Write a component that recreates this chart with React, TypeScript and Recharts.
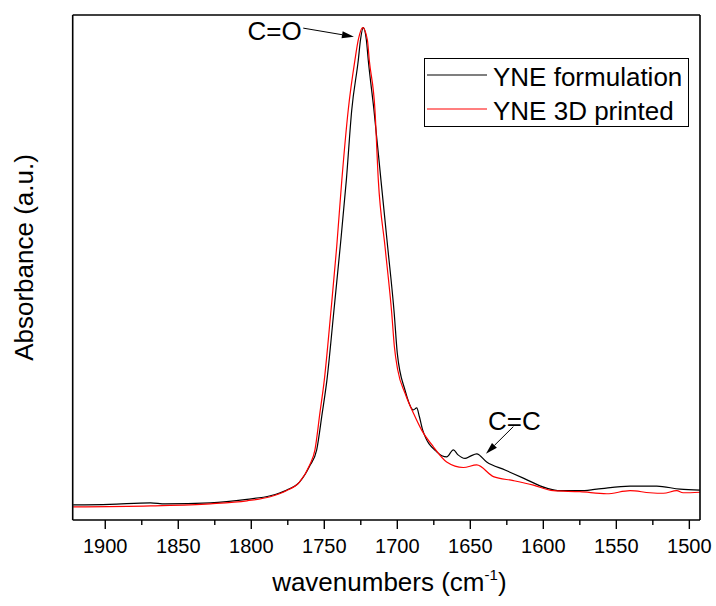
import React from "react"
import { LineChart, Line, XAxis, YAxis, Legend, ReferenceLine } from "recharts"

const FONT = "'Liberation Sans', Arial, Helvetica, sans-serif"

// wavenumbers (cm-1) and absorbance
const formulationWn = [
  1922, 1897, 1869, 1859, 1828, 1803, 1787, 1776, 1767, 1760, 1755.2, 1751.4, 1748.2, 1743.6, 1739.1, 1734.9,
  1731.2, 1726.7, 1725.2, 1723.3, 1721.2, 1719.9, 1716, 1711.2, 1706.6, 1702.1, 1700, 1694.7, 1689, 1686.7,
  1684.9, 1682.6, 1673, 1666.2, 1661.6, 1658.4, 1653.6, 1650.2, 1645.6, 1638.8, 1626.2, 1613.7, 1597.7, 1588.6,
  1574.9, 1563.4, 1540.6, 1522.3, 1506.4, 1492.7,
]
const formulationAbs = [
  0.03, 0.031, 0.034, 0.032, 0.034, 0.041, 0.048, 0.059, 0.075, 0.107, 0.139, 0.212, 0.277, 0.409, 0.541, 0.673,
  0.812, 0.911, 0.951, 0.975, 0.951, 0.911, 0.812, 0.673, 0.541, 0.409, 0.33, 0.257, 0.218, 0.222,
  0.205, 0.178, 0.135, 0.125, 0.139, 0.129, 0.122, 0.126, 0.131, 0.115, 0.099, 0.083, 0.063, 0.058,
  0.058, 0.061, 0.067, 0.067, 0.061, 0.059,
]

const printedWn = [
  1922, 1869, 1828, 1803, 1787, 1776, 1767, 1760, 1756.4, 1753, 1750, 1745.6, 1741.5, 1738, 1733.6, 1729,
  1726.7, 1723.7, 1720.5, 1719.2, 1715.3, 1713, 1708.4, 1703.8, 1702, 1699.7, 1694.7, 1687.9, 1683.3, 1675.3,
  1666.2, 1654.8, 1645.6, 1634.2, 1620.5, 1606.8, 1593.2, 1574.9, 1556.6, 1540.6, 1527, 1517.8, 1508.6, 1504.3,
  1492.7,
]
const printedAbs = [
  0.026, 0.028, 0.032, 0.038, 0.046, 0.058, 0.075, 0.109, 0.139, 0.212, 0.277, 0.409, 0.541, 0.673, 0.812, 0.911,
  0.951, 0.975, 0.951, 0.911, 0.812, 0.673, 0.541, 0.409, 0.343, 0.297, 0.251, 0.205, 0.178, 0.145,
  0.115, 0.104, 0.109, 0.086, 0.078, 0.069, 0.058, 0.056, 0.052, 0.058, 0.054, 0.053, 0.058, 0.054,
  0.055,
]

const seriesNames = ["YNE formulation", "YNE 3D printed"]

const xTicks = [1900, 1875, 1850, 1825, 1800, 1775, 1750, 1725, 1700, 1675, 1650, 1625, 1600, 1575, 1550, 1525, 1500]

const formulationData = formulationWn.map((wn, i) => ({ wn, abs: formulationAbs[i] }))
const printedData = printedWn.map((wn, i) => ({ wn, abs: printedAbs[i] }))

const axisStyle = { stroke: "#000", strokeWidth: 1.6 }

function XTick(props: any) {
  const { x, y, payload } = props
  const major = payload.value % 50 === 0
  return (
    <g>
      <line x1={x} x2={x} y1={y} y2={y + (major ? 9 : 5)} stroke="#000" strokeWidth={1.4} />
      {major && (
        <text x={x} y={y + 33} textAnchor="middle" fontSize={20} fill="#000" fontFamily={FONT}>
          {payload.value}
        </text>
      )}
    </g>
  )
}

function XTitle(props: any) {
  const vb = props.viewBox || { x: 72.7, y: 520, width: 627.3 }
  return (
    <text x={vb.x + vb.width / 2 + 3} y={vb.y + 71} textAnchor="middle" fontSize={26} fill="#000" fontFamily={FONT}>
      wavenumbers (cm
      <tspan fontSize={15} dy={-11}>-1</tspan>
      <tspan dy={11}>)</tspan>
    </text>
  )
}

function YTitle(props: any) {
  const vb = props.viewBox || { y: 15, height: 505 }
  const cy = vb.y + vb.height / 2 - 10
  return (
    <text x={33} y={cy} transform={`rotate(-90, 33, ${cy})`} textAnchor="middle" fontSize={26} fill="#000" fontFamily={FONT}>
      Absorbance (a.u.)
    </text>
  )
}

function LegendBox(props: any) {
  const items = props.payload || []
  return (
    <svg width={265} height={69} style={{ display: "block", fontFamily: FONT }}>
      <rect x={0.5} y={0.5} width={264} height={68} fill="#fff" stroke="#000" strokeWidth={1} />
      {items.map((e: any, i: number) => (
        <g key={i}>
          <line x1={3} x2={63} y1={17 + i * 34} y2={17 + i * 34} stroke={e.color} strokeWidth={1.2} />
          <text x={69} y={28 + i * 34} fontSize={26} fill="#000">
            {e.value}
          </text>
        </g>
      ))}
    </svg>
  )
}

// arrow drawn from the segment start to the tip, with its text next to the start
function arrowShape(text: string, dx: number, dy: number, anchor: string) {
  return (p: any) => {
    const { x1, y1, x2, y2 } = p
    const len = Math.hypot(x2 - x1, y2 - y1) || 1
    const ux = (x2 - x1) / len
    const uy = (y2 - y1) / len
    const bx = x2 - ux * 12
    const by = y2 - uy * 12
    const pts = `${x2},${y2} ${bx - uy * 3.5},${by + ux * 3.5} ${bx + uy * 3.5},${by - ux * 3.5}`
    return (
      <g>
        <line x1={x1} y1={y1} x2={bx} y2={by} stroke="#000" strokeWidth={1} />
        <polygon points={pts} fill="#000" />
        <text x={x1 + dx} y={y1 + dy} textAnchor={anchor as any} fontSize={26} fill="#000" fontFamily={FONT}>
          {text}
        </text>
      </g>
    )
  }
}

export default function App() {
  return (
    <div style={{ position: "absolute", left: 0, top: 0, fontFamily: FONT }}>
      <LineChart width={716} height={606} margin={{ top: 14, right: 15, bottom: 0, left: 71.7 }}>
        <XAxis
          dataKey="wn"
          type="number"
          domain={[1492.7, 1922.3]}
          reversed
          allowDataOverflow
          ticks={xTicks}
          interval={0}
          tick={<XTick />}
          tickLine={false}
          tickSize={0}
          tickMargin={0}
          height={86}
          axisLine={axisStyle}
          label={<XTitle />}
        />
        <XAxis
          xAxisId="top"
          orientation="top"
          dataKey="wn"
          type="number"
          domain={[1492.7, 1922.3]}
          reversed
          height={1}
          tick={false}
          tickLine={false}
          axisLine={axisStyle}
        />
        <YAxis type="number" domain={[0, 1]} width={1} tick={false} tickLine={false} axisLine={axisStyle} label={<YTitle />} />
        <YAxis yAxisId="right" orientation="right" type="number" domain={[0, 1]} width={1} tick={false} tickLine={false} axisLine={axisStyle} />
        <Legend
          layout="vertical"
          align="center"
          verticalAlign="middle"
          itemSorter={(e: any) => seriesNames.indexOf(e.value)}
          content={<LegendBox />}
          wrapperStyle={{ left: 424, top: 58, width: 265, height: 69 }}
        />
        <ReferenceLine
          segment={[{ x: 1764.4, y: 0.974 }, { x: 1729.7, y: 0.957 }]}
          shape={arrowShape("C=O", -1.6, 11.7, "end")}
        />
        <ReferenceLine
          segment={[{ x: 1620.5, y: 0.185 }, { x: 1639.3, y: 0.131 }]}
          shape={arrowShape("C=C", 1, 3.3, "middle")}
        />
        <Line
          data={formulationData}
          dataKey="abs"
          name={seriesNames[0]}
          type="monotone"
          stroke="#000000"
          strokeWidth={1.2}
          dot={false}
          isAnimationActive={false}
        />
        <Line
          data={printedData}
          dataKey="abs"
          name={seriesNames[1]}
          type="monotone"
          stroke="#ff0000"
          strokeWidth={1.2}
          dot={false}
          isAnimationActive={false}
        />
      </LineChart>
    </div>
  )
}
